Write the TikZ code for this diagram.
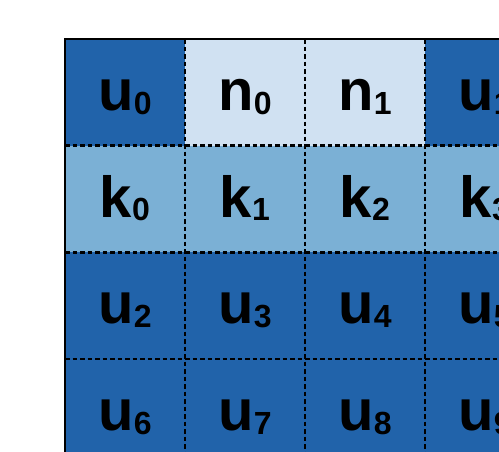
\documentclass[tikz,border=0pt]{standalone}
\usepackage{fontspec}
\setmainfont{Liberation Sans}
\definecolor{dk}{HTML}{2163AA}
\definecolor{md}{HTML}{7BB0D5}
\definecolor{lt}{HTML}{D0E1F2}
\newcommand{\lbl}[2]{\fontsize{58}{58}\selectfont\bfseries #1\raisebox{-3.5pt}{\fontsize{32}{32}\selectfont #2}}
\begin{document}
\begin{tikzpicture}[x=1pt,y=-1pt,
  cell/.style={rectangle,inner sep=0pt,outer sep=0pt,minimum width=120pt,minimum height=106.67pt,draw=none},
  lab/.style={anchor=base,inner sep=0pt,text=black},
  gridline/.style={black,line width=2.8pt,dash pattern=on 4.5pt off 3pt},
  border/.style={black,line width=2.6pt}]
\useasboundingbox (0,0) rectangle (499,451);
\begin{scope}
\clip (0,0) rectangle (499,451);
\foreach \r/\c/\col/\a/\b in {
  1/1/dk/u/0, 1/2/lt/n/0, 1/3/lt/n/1, 1/4/dk/u/1,
  2/1/md/k/0, 2/2/md/k/1, 2/3/md/k/2, 2/4/md/k/3,
  3/1/dk/u/2, 3/2/dk/u/3, 3/3/dk/u/4, 3/4/dk/u/5,
  4/1/dk/u/6, 4/2/dk/u/7, 4/3/dk/u/8, 4/4/dk/u/9}{
  \node[cell,fill=\col] (c\r\c) at ({5+120*\c},{39+106.67*(\r-1)+53.33}) {};
  \node[lab] (t\r\c) at ({5+120*\c},{39+106.67*(\r-1)+71.5}) {\lbl{\a}{\b}};
}
\foreach \c in {1,2,3}{
  \draw[gridline] (c1\c.north east) -- (c4\c.south east);
}
\draw[gridline] (c14.north east) -- (c44.south east);
\foreach \r in {1,2,3}{
  \draw[gridline] (c\r1.south west) -- (c\r4.south east);
}
\draw[border] (c41.south west) -- (c11.north west) -- (c14.north east);
\end{scope}
\end{tikzpicture}
\end{document}
